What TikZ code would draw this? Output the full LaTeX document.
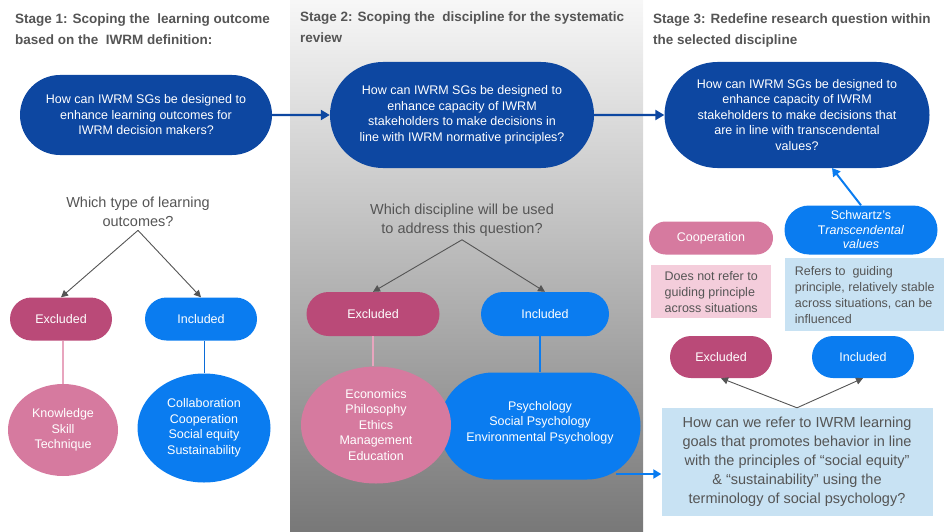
\documentclass[tikz,border=0pt]{standalone}
\usepackage{fontspec}
\setmainfont{Liberation Sans}
\usetikzlibrary{shapes.misc, shapes.geometric, arrows.meta, positioning, calc}
\definecolor{navy}{HTML}{0D47A1}
\definecolor{brightblue}{HTML}{0A7CF0}
\definecolor{berry}{HTML}{BA4A78}
\definecolor{rosy}{HTML}{D67A9F}
\definecolor{rosyline}{HTML}{E8A5BE}
\definecolor{palerose}{HTML}{F4CDDB}
\definecolor{paleblue}{HTML}{C8E2F3}
\definecolor{txtgray}{HTML}{555555}
\begin{document}
\begin{tikzpicture}[x=1pt, y=-1pt,
  stagehead/.style={anchor=north west, align=left, inner sep=0pt, text=txtgray,
    font=\fontsize{13.5}{21}\selectfont\bfseries},
  question/.style={rounded rectangle, fill=navy, text=white, align=center,
    font=\fontsize{12.5}{15.5}\selectfont, inner sep=0pt},
  asked/.style={align=center, text=txtgray, font=\fontsize{14.5}{19}\selectfont},
  pill/.style={rounded rectangle, text=white, font=\fontsize{12.5}{15}\selectfont,
    minimum height=43pt, inner sep=0pt},
  excl/.style={pill, fill=berry},
  incl/.style={pill, fill=brightblue},
  blob/.style={ellipse, text=white, align=center, inner sep=0pt,
    font=\fontsize{12.5}{15.5}\selectfont},
  note/.style={anchor=north west, align=left, text=txtgray, inner sep=4pt,
    font=\fontsize{12.5}{16}\selectfont},
  flow/.style={draw=navy, line width=2.2pt, -{Triangle[length=9pt, width=10pt]}},
  blueflow/.style={draw=brightblue, line width=2pt, -{Triangle[length=8pt, width=9pt]}},
  pick/.style={draw=txtgray, line width=0.9pt, -{Triangle[length=7pt, width=7pt]}},
]
\useasboundingbox (0,0) rectangle (944,532);
% middle panel background
\shade[top color=white!97!black, bottom color=black!53] (290,0) rectangle (643,532);

% stage headers
\node[stagehead] (h1) at (15,14) {Stage 1: Scoping the\ \ learning outcome\\based on the\ \ IWRM definition:};
\node[stagehead] (h2) at (300,12) {Stage 2: Scoping the\ \ discipline for the systematic\\review};
\node[stagehead] (h3) at (653,14) {Stage 3: Redefine research question within\\the selected discipline};

% research questions
\node[question, minimum width=252pt, minimum height=80pt] (q1) at (146,115)
  {How can IWRM SGs be designed to\\enhance learning outcomes for\\IWRM decision makers?};
\node[question, minimum width=264pt, minimum height=106pt] (q2) at (462,115)
  {How can IWRM SGs be designed to\\enhance capacity of IWRM\\stakeholders to make decisions in\\line with IWRM normative principles?};
\node[question, minimum width=265pt, minimum height=106pt] (q3) at (797,115)
  {How can IWRM SGs be designed to\\enhance capacity of IWRM\\stakeholders to make decisions that\\are in line with transcendental\\values?};
\draw[flow] (q1) -- (q2);
\draw[flow] (q2) -- (q3);

% stage 1
\node[asked] (a1) at (138,212) {Which type of learning\\outcomes?};
\node[excl, minimum width=102pt] (ex1) at (61,319) {Excluded};
\node[incl, minimum width=112pt] (in1) at (201,319) {Included};
\node[blob, fill=rosy, minimum width=110pt, minimum height=92pt] (kn) at (63,430)
  {Knowledge\\Skill\\Technique};
\node[blob, fill=brightblue, minimum width=133pt, minimum height=109pt] (co) at (204,428)
  {Collaboration\\Cooperation\\Social equity\\Sustainability};
\draw[pick] (a1.south) -- (ex1.north);
\draw[pick] (a1.south) -- (in1.north);
\draw[rosyline, line width=1.5pt] (kn.north) -- (kn.north |- ex1.south);
\draw[brightblue!70!navy, line width=1pt] (co.north) -- (co.north |- in1.south);

% stage 2
\node[asked] (a2) at (462,220) {Which discipline will be used\\to address this question?};
\node[excl, minimum width=133pt, minimum height=44pt] (ex2) at (373,314) {Excluded};
\node[incl, minimum width=128pt, minimum height=44pt] (in2) at (545,314) {Included};
\node[rounded rectangle, fill=brightblue, text=white, align=center, inner sep=0pt,
  font=\fontsize{12.5}{15.5}\selectfont, minimum width=201pt, minimum height=107pt] (ps) at (540,426)
  {Psychology\\Social Psychology\\Environmental Psychology\\[-5.5pt]};
\node[blob, fill=rosy, minimum width=150pt, minimum height=117pt] (ec) at (376,425)
  {Economics\\Philosophy\\Ethics\\Management\\Education};
\draw[pick] (a2.south) -- (ex2.north);
\draw[pick] (a2.south) -- (in2.north);
\draw[rosyline, line width=1.5pt] (ec.north -| ex2.south) -- (ex2.south);
\draw[brightblue, line width=1.5pt] (ps.north) -- (ps.north |- in2.south);

% stage 3
\node[pill, fill=rosy, minimum width=124pt, minimum height=33pt] (coop) at (711,238) {Cooperation};
\node[rounded rectangle, fill=brightblue, text=white, align=center, inner sep=0pt,
  font=\fontsize{12.5}{14.5}\selectfont, minimum width=153pt, minimum height=49pt] (sw) at (861,230)
  {Schwartz's\\T\textit{ranscendental}\\\textit{values}};
\node[note, fill=palerose, minimum width=120pt, minimum height=53pt] (nb1) at (651,265)
  {Does not refer to\\guiding principle\\across situations};
\node[note, fill=paleblue, minimum width=159pt, minimum height=73pt] (nb2) at (785,258)
  {Refers to\ \ guiding\\principle, relatively stable\\across situations, can be\\influenced};
\node[excl, minimum width=102pt, minimum height=42pt] (ex3) at (721,357) {Excluded};
\node[incl, minimum width=102pt, minimum height=42pt] (in3) at (863,357) {Included};
\node[asked, fill=paleblue, minimum width=271pt, minimum height=108pt] (a3) at (797,462)
  {How can we refer to IWRM learning\\goals that promotes behavior in line\\with the principles of “social equity”\\\& “sustainability” using the\\terminology of social psychology?};
\coordinate (q3foot) at (832,168);
\draw[blueflow] (sw.north) -- (q3foot);
\draw[pick] (a3.north) -- (ex3.south);
\draw[pick] (a3.north) -- (in3.south);
\coordinate (psout) at (616,474);
\draw[blueflow] (psout) -- (psout -| a3.west);
\end{tikzpicture}
\end{document}
